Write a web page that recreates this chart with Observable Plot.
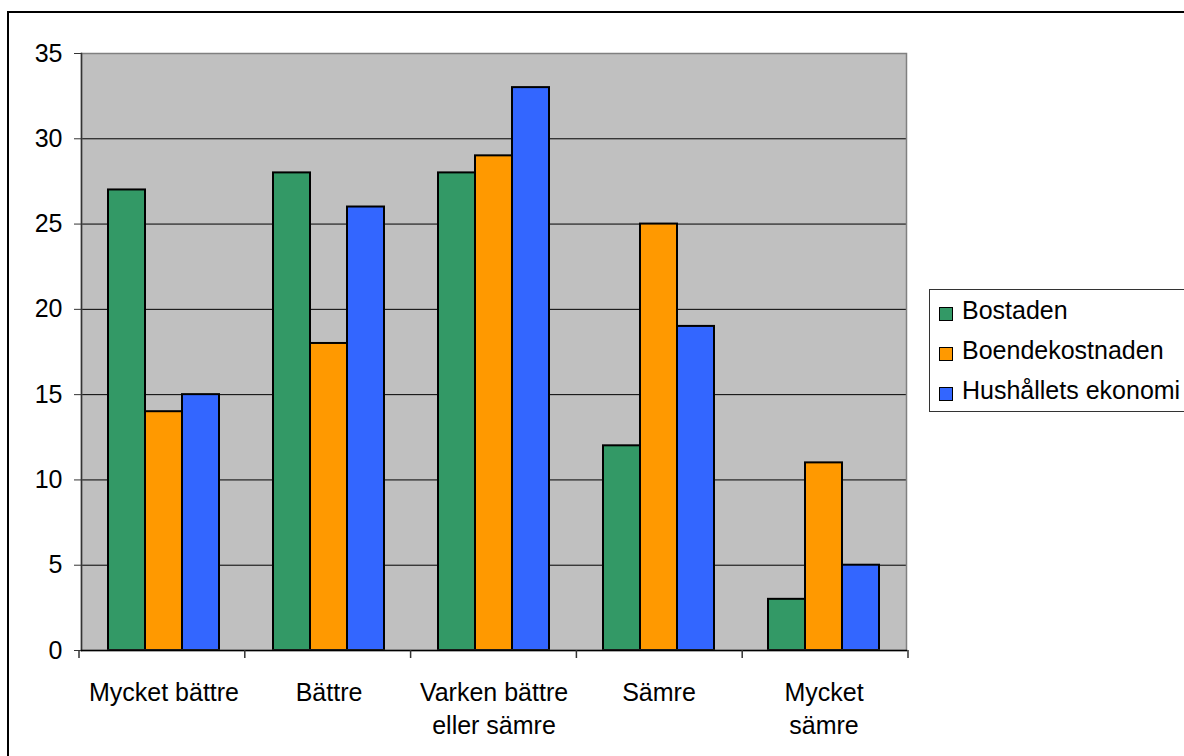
<!DOCTYPE html>
<html><head><meta charset="utf-8">
<script src="https://cdn.jsdelivr.net/npm/d3@7"></script>
<script src="https://cdn.jsdelivr.net/npm/@observablehq/plot@0.6"></script>
<style>
html,body{margin:0;padding:0;background:#fff;}
#wrap{position:relative;width:1184px;height:756px;overflow:hidden;font-family:'Liberation Sans',Arial,sans-serif;}
#chart{position:absolute;left:0;top:0;}
#outer{position:absolute;left:7px;top:11px;width:1300px;height:900px;border-top:2px solid #000;border-left:2px solid #000;pointer-events:none;}
#legend{position:absolute;left:929px;top:289px;width:300px;height:121px;border:1px solid #333;background:#fff;}
.row{position:relative;height:40px;}
.sw{position:absolute;left:9px;top:17px;width:12px;height:12px;border:1.5px solid #000;}
.lt{position:absolute;left:32px;top:0;line-height:40px;font-size:25px;color:#000;white-space:nowrap;}
</style></head>
<body>
<div id="wrap"><div id="chart"></div><div id="outer"></div><div id="legend"></div></div>
<script>
const categories = ["Mycket bättre", "Bättre", "Varken bättre\neller sämre", "Sämre", "Mycket\nsämre"];
const series = ["Bostaden", "Boendekostnaden", "Hushållets ekonomi"];
const bostaden = [27, 28, 28, 12, 3];
const boendekostnaden = [14, 18, 29, 25, 11];
const hushallet = [15, 26, 33, 19, 5];
const colors = ["#339966", "#FF9900", "#3366FF"];
const yTicks = [0, 5, 10, 15, 20, 25, 30, 35];
const gridTicks = [5, 10, 15, 20, 25, 30];

const values = [bostaden, boendekostnaden, hushallet];
const data = [];
categories.forEach((c, i) => series.forEach((s, j) => data.push({category: c, series: s, value: values[j][i]})));

const plot = Plot.plot({
  width: 1184, height: 756,
  marginLeft: 79, marginTop: 53, marginRight: 276, marginBottom: 106,
  style: {fontFamily: "'Liberation Sans', Arial, sans-serif", fontSize: "25px", background: "none", color: "black", overflow: "visible"},
  fx: {domain: categories, padding: 0, label: null, axis: null},
  x: {domain: series, paddingInner: 0, paddingOuter: 0.72, axis: null},
  y: {domain: [0, 35], axis: null},
  color: {domain: series, range: colors},
  marks: [
    Plot.frame({fill: "#c0c0c0", facet: "super"}),
    Plot.gridY(gridTicks, {stroke: "black", strokeOpacity: 1, strokeWidth: 1}),
    Plot.barY(data, {fx: "category", x: "series", y: "value", fill: "series", stroke: "black", strokeWidth: 2}),
    Plot.frame({stroke: "#808080", strokeWidth: 1.5, facet: "super"}),
    Plot.frame({anchor: "left", stroke: "#333", strokeWidth: 1.5, facet: "super"}),
    Plot.frame({anchor: "bottom", stroke: "black", strokeWidth: 1.5, facet: "super"}),
    Plot.axisY(yTicks, {tickSize: 7, tickPadding: 12, label: null, stroke: "#333", fill: "black"}),
    Plot.axisFx({anchor: "bottom", tickSize: 0, tickPadding: 27, label: null, lineHeight: 1.32, fill: "black"})
  ]
});
document.getElementById("chart").appendChild(plot);

// category boundary ticks (Excel style) from the fx scale
const fx = plot.scale("fx");
const r0 = fx.range[0], r1 = fx.range[1], n = fx.domain.length;
const yb = plot.scale("y").apply(0);
d3.select(plot).append("g")
  .selectAll("line").data(d3.range(n + 1)).join("line")
  .attr("x1", i => r0 + i * (r1 - r0) / n).attr("x2", i => r0 + i * (r1 - r0) / n)
  .attr("y1", yb).attr("y2", yb + 8)
  .attr("stroke", "#333").attr("stroke-width", 1.5);

// legend
const legend = document.getElementById("legend");
series.forEach((s, j) => {
  const row = document.createElement("div");
  row.className = "row";
  const sw = document.createElement("div");
  sw.className = "sw";
  sw.style.background = colors[j];
  const lt = document.createElement("div");
  lt.className = "lt";
  lt.textContent = s;
  row.appendChild(sw); row.appendChild(lt);
  legend.appendChild(row);
});
</script>
</body></html>
